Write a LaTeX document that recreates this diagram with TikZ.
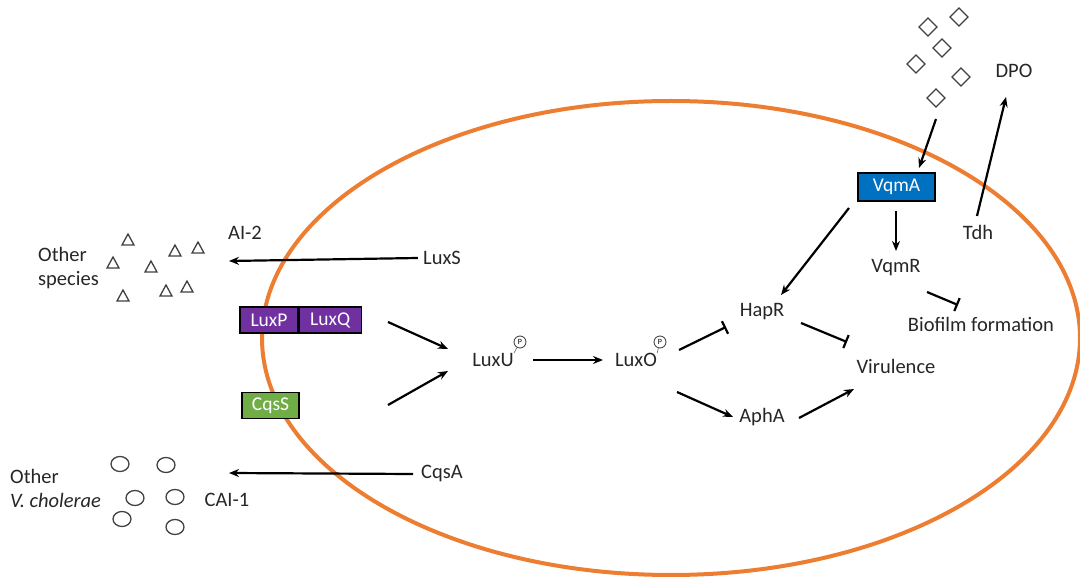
\documentclass[tikz,border=0pt]{standalone}
\usepackage{fontspec}
\setmainfont{Carlito}
\usetikzlibrary{arrows.meta}
\definecolor{cellorange}{HTML}{ED7D31}
\definecolor{luxpurple}{HTML}{7030A0}
\definecolor{cqsgreen}{HTML}{70AD47}
\definecolor{vqmblue}{HTML}{0070C0}
\definecolor{symgray}{HTML}{404040}
\begin{document}
\begin{tikzpicture}[x=1pt,y=-1pt,
  lbl/.style={inner sep=0pt,font=\fontsize{20.5}{24}\selectfont,text=black!85},
  boxnode/.style={draw=black,line width=1.2pt,inner sep=0pt,minimum height=26pt,text=white,font=\fontsize{19.5}{23}\selectfont},
  arr/.style={line width=2.2pt,-{Stealth[length=10pt,width=8pt]}},
  inh/.style={line width=2.2pt,-{Bar[width=14pt,line width=2.2pt]}},
  pcirc/.style={circle,draw=black!80,line width=0.8pt,inner sep=0.6pt,minimum size=12pt,font=\fontsize{8}{8}\selectfont},
  sym/.style={draw=symgray,line width=1.3pt}
]
\useasboundingbox (0,0) rectangle (1080,577);
% cell
\draw[cellorange,line width=4pt] (671,338) ellipse [x radius=409,y radius=237];

% AI-2 region
\node[lbl] (ai2) at (245,233) {AI-2};
\node[lbl,align=left,anchor=west] (oth1) at (38,268) {Other\\species};
\foreach \x/\y in {128/240,113/263,151/267,175/251,198/248,123/296,166/291,187/287}
  \draw[sym] (\x-6,\y+5) -- (\x,\y-6) -- (\x+6,\y+5) -- cycle;
\node[lbl] (luxs) at (442,258) {LuxS};
\coordinate (ai2end) at (229,261);
\draw[arr] (luxs.west) ++(-5,0) coordinate (luxsst) (luxsst) -- (ai2end);

% receptors
\node[boxnode,fill=luxpurple,minimum width=58pt] (luxp) at (269,320) {LuxP};
\node[boxnode,fill=luxpurple,minimum width=62pt,anchor=west] (luxq) at (luxp.east) {LuxQ};
\node[boxnode,fill=cqsgreen,minimum width=57pt] (cqss) at (270.5,405.5) {CqsS};

\coordinate (r1s) at (388,322);
\coordinate (r1e) at (448,349);
\coordinate (r2s) at (388,405);
\coordinate (r2e) at (448,371);
\draw[arr] (r1s) -- (r1e);
\draw[arr] (r2s) -- (r2e);

% LuxU, LuxO
\node[lbl] (luxu) at (493,360) {LuxU};
\node[pcirc] (pu) at (520,342) {P};
\draw[black!60,line width=0.6pt] (pu) -- (luxu.north east);
\node[lbl] (luxo) at (636,360) {LuxO};
\node[pcirc] (po) at (660,342) {P};
\draw[black!60,line width=0.6pt] (po) -- (luxo.north east);
\coordinate (uos) at (533,360);
\coordinate (uoe) at (603,360);
\draw[arr] (uos) -- (uoe);

% right part
\node[lbl] (hapr) at (762,312) {HapR};
\node[lbl] (apha) at (762,417) {AphA};
\node[lbl] (vir) at (896,366) {Virulence};
\node[lbl] (vqmr) at (896,268) {VqmR};
\node[lbl] (bio) at (981,324) {Biofilm formation};
\node[lbl] (tdh) at (978,232) {Tdh};
\node[lbl] (dpo) at (1014,71) {DPO};
\node[boxnode,fill=vqmblue,minimum width=77pt,minimum height=28pt] (vqma) at (896.5,187) {VqmA};

\coordinate (oh1) at (679,350); \coordinate (oh2) at (726,327);
\draw[inh] (oh1) -- (oh2);
\coordinate (oa1) at (677,392); \coordinate (oa2) at (733,417);
\draw[arr] (oa1) -- (oa2);
\coordinate (hv1) at (801,323); \coordinate (hv2) at (847,342);
\draw[inh] (hv1) -- (hv2);
\coordinate (av1) at (799,418); \coordinate (av2) at (854,389);
\draw[arr] (av1) -- (av2);
\coordinate (vh1) at (849,208); \coordinate (vh2) at (781,295);
\draw[arr] (vh1) -- (vh2);
\coordinate (vr1) at (896,211); \coordinate (vr2) at (896,251);
\draw[arr] (vr1) -- (vr2);
\coordinate (rb1) at (927,292); \coordinate (rb2) at (958,305);
\draw[inh] (rb1) -- (rb2);
\coordinate (td1) at (977,216); \coordinate (td2) at (1006,97);
\draw[arr] (td1) -- (td2);

% diamonds (DPO)
\foreach \x/\y in {928/27,959/17,942/48,916/64,961/77,936/98}
  \draw[sym] (\x-9,\y) -- (\x,\y-9) -- (\x+9,\y) -- (\x,\y+9) -- cycle;
\coordinate (dv1) at (936,119); \coordinate (dv2) at (919,168);
\draw[arr] (dv1) -- (dv2);

% CAI-1 region
\node[lbl,align=left,anchor=west] (oth2) at (10,488) {Other\\\textit{V. cholerae}};
\foreach \x/\y in {120/464,166/465,135/498,175/497,122/519,175/527}
  \draw[sym] (\x,\y) ellipse [x radius=9,y radius=7.5];
\node[lbl] (cai) at (227,500) {CAI-1};
\node[lbl] (cqsa) at (442,474) {CqsA};
\coordinate (caiend) at (229,473);
\draw[arr] (cqsa.west) ++(-8,0) coordinate (cqsast) (cqsast) -- (caiend);
\end{tikzpicture}
\end{document}
